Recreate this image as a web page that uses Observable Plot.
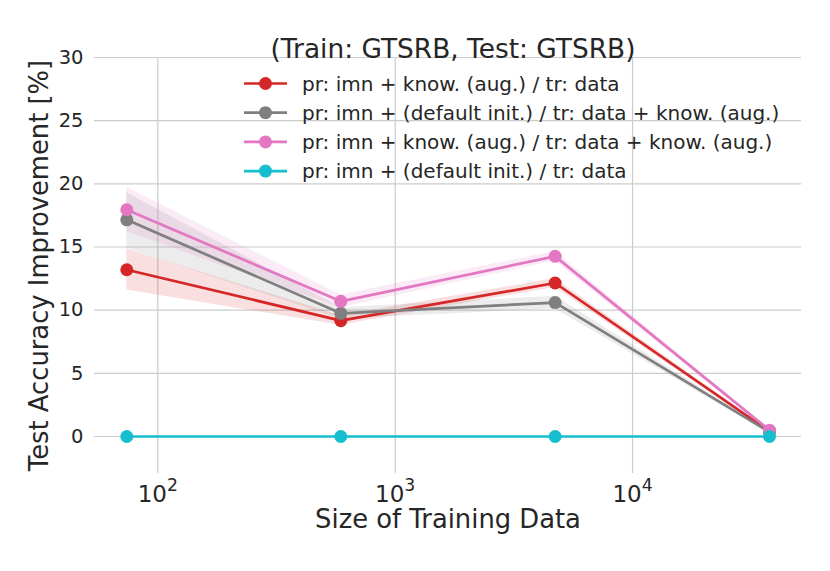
<!DOCTYPE html>
<html>
<head>
<meta charset="utf-8">
<script src="https://cdn.jsdelivr.net/npm/d3@7"></script>
<script src="https://cdn.jsdelivr.net/npm/@observablehq/plot@0.6"></script>
<style>
  html, body { margin: 0; padding: 0; background: #fff; }
  #chart { width: 830px; height: 571px; }
</style>
</head>
<body>
<div id="chart"></div>
<script>
// ---- data ----
const sizes = [74, 590, 4720, 37760];
const seriesNames = [
  "pr: imn + know. (aug.) / tr: data",
  "pr: imn + (default init.) / tr: data + know. (aug.)",
  "pr: imn + know. (aug.) / tr: data + know. (aug.)",
  "pr: imn + (default init.) / tr: data"
];
const seriesColors = ["#d62728", "#7f7f7f", "#e377c2", "#17becf"];
const redMean  = [13.2, 9.17, 12.15, 0.4];
const redLo    = [11.6, 8.8, 11.8, 0.3];
const redHi    = [14.85, 9.55, 12.5, 0.5];
const grayMean = [17.15, 9.75, 10.6, 0.35];
const grayLo   = [14.9, 9.3, 10.1, 0.25];
const grayHi   = [19.3, 10.2, 11.1, 0.45];
const pinkMean = [17.95, 10.7, 14.26, 0.5];
const pinkLo   = [16.2, 10.2, 13.9, 0.4];
const pinkHi   = [19.7, 11.2, 14.65, 0.6];
const cyanMean = [0, 0, 0, 0];
const cyanLo   = [0, 0, 0, 0];
const cyanHi   = [0, 0, 0, 0];
const xTicks = [100, 1000, 10000];
const yTicks = [0, 5, 10, 15, 20, 25, 30];
const titleText = "(Train: GTSRB, Test: GTSRB)";
const xLabel = "Size of Training Data";
const yLabel = "Test Accuracy Improvement [%]";

const means = [redMean, grayMean, pinkMean, cyanMean];
const los = [redLo, grayLo, pinkLo, cyanLo];
const his = [redHi, grayHi, pinkHi, cyanHi];

const rows = [];
means.forEach((m, s) => {
  sizes.forEach((x, i) => {
    rows.push({series: s, x, y: m[i], lo: los[s][i], hi: his[s][i]});
  });
});

const font = "DejaVu Sans";
const ink = "#262626";

const marks = [
  Plot.gridX(xTicks, {stroke: "#cccccc", strokeOpacity: 1, strokeWidth: 1.2}),
  Plot.gridY(yTicks, {stroke: "#cccccc", strokeOpacity: 1, strokeWidth: 1.2}),
  Plot.axisX({ticks: xTicks, tickSize: 0, tickPadding: 12, fontSize: 23, label: null,
    tickFormat: d => "10^" + Math.round(Math.log10(d)), fill: ink}),
  Plot.axisY({ticks: yTicks, tickSize: 0, tickPadding: 11, fontSize: 19.5, label: null, fill: ink})
];
for (let s = 0; s < 4; s++) {
  const d = rows.filter(r => r.series === s);
  marks.push(Plot.areaY(d, {x: "x", y1: "lo", y2: "hi", fill: seriesColors[s], fillOpacity: 0.15}));
}
for (let s = 0; s < 4; s++) {
  const d = rows.filter(r => r.series === s);
  marks.push(Plot.line(d, {x: "x", y: "y", stroke: seriesColors[s], strokeWidth: 2.7}));
  marks.push(Plot.dot(d, {x: "x", y: "y", r: 6.5, fill: seriesColors[s], stroke: "none"}));
}
marks.push(Plot.text([titleText], {text: d => d, frameAnchor: "top", dx: 5, dy: -18, fontSize: 26.4, fill: ink}));
marks.push(Plot.text([xLabel], {text: d => d, frameAnchor: "bottom", dy: 54, fontSize: 25.8, fill: ink}));
marks.push(Plot.text([yLabel], {text: d => d, frameAnchor: "left", textAnchor: "middle", dx: -55, rotate: -90, fontSize: 25.8, fill: ink}));

const chart = Plot.plot({
  width: 830,
  height: 571,
  marginLeft: 94,
  marginRight: 29,
  marginTop: 57,
  marginBottom: 98,
  style: {fontFamily: font, background: "#fff", color: ink, overflow: "visible"},
  x: {type: "log", domain: [54.1, 51500]},
  y: {domain: [-2.93, 30]},
  marks
});

const svg = d3.select(chart);

// turn "10^k" tick labels into real superscripts
svg.selectAll("g[aria-label='x-axis tick label'] text").each(function() {
  const t = d3.select(this);
  const parts = t.text().split("^");
  t.text(null);
  t.append("tspan").text(parts[0]);
  t.append("tspan").attr("font-size", "0.75em").attr("dy", "-0.65em").text(parts[1]);
});

// legend inside the plot
const lg = svg.append("g").attr("font-family", font).attr("font-size", 20)
  .attr("fill", ink).attr("text-anchor", "start");
seriesNames.forEach((name, i) => {
  const yy = 83.5 + i * 29.2;
  lg.append("line").attr("x1", 244).attr("x2", 287).attr("y1", yy).attr("y2", yy)
    .attr("stroke", seriesColors[i]).attr("stroke-width", 2.7);
  lg.append("circle").attr("cx", 265.5).attr("cy", yy).attr("r", 6.5).attr("fill", seriesColors[i]);
  lg.append("text").attr("x", 302).attr("y", yy).attr("dy", "0.36em").text(name);
});

document.getElementById("chart").appendChild(chart);
</script>
</body>
</html>
